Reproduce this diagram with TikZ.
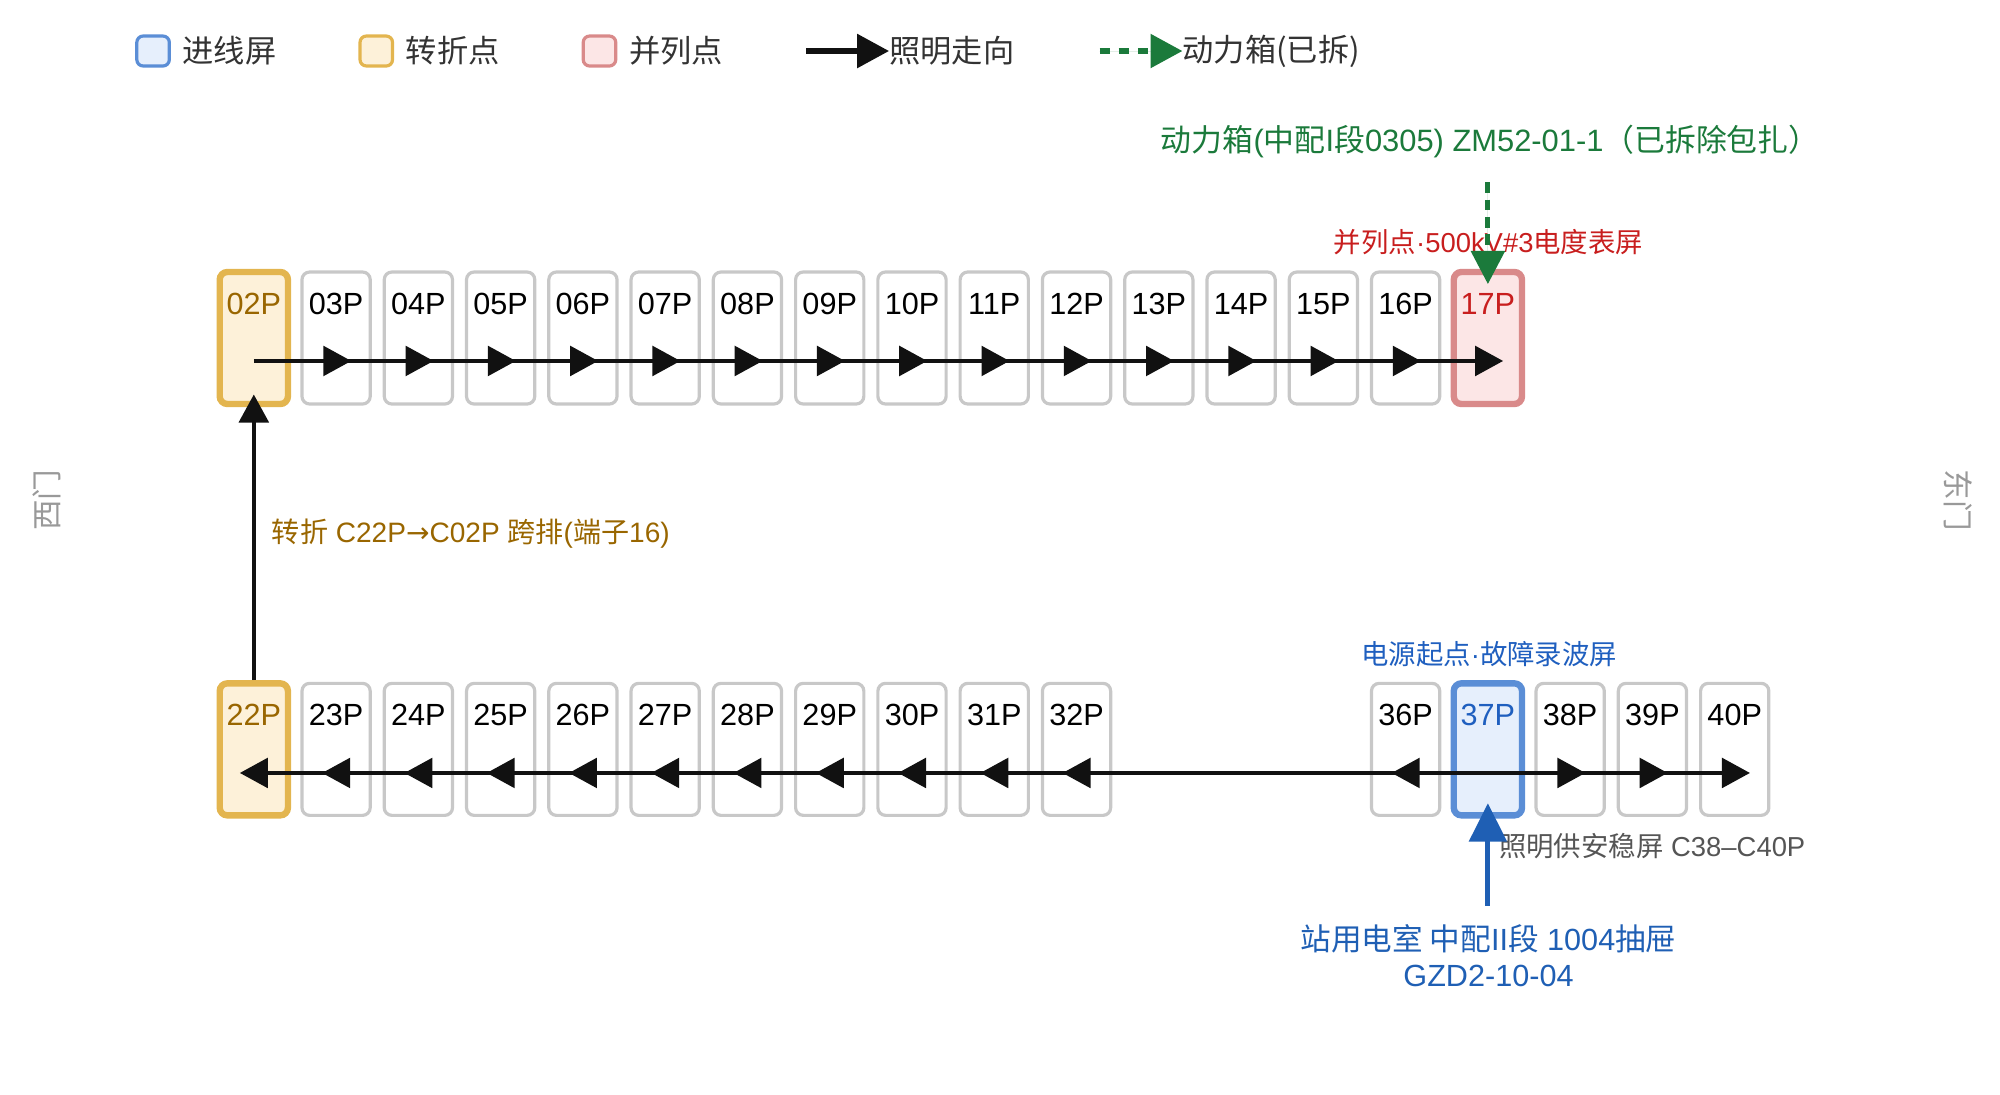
\documentclass[tikz,border=0pt]{standalone}
\usepackage{fontspec}
\setmainfont{Liberation Sans}
\newfontfamily\cjk{Noto Sans CJK SC}
\newfontfamily\arrfont{DejaVu Sans}
\usetikzlibrary{arrows.meta,positioning}

\definecolor{panelLine}{HTML}{C8C8C8}
\definecolor{inFill}{HTML}{E6EFFC}
\definecolor{inLine}{HTML}{5B8ED6}
\definecolor{inText}{HTML}{1F5FBF}
\definecolor{turnFill}{HTML}{FDF1D9}
\definecolor{turnLine}{HTML}{E3B54F}
\definecolor{turnText}{HTML}{996600}
\definecolor{parFill}{HTML}{FCE6E6}
\definecolor{parLine}{HTML}{D98A8A}
\definecolor{parText}{HTML}{C81E1E}
\definecolor{flowBlack}{HTML}{111111}
\definecolor{pwrGreen}{HTML}{1B7A3B}
\definecolor{feedBlue}{HTML}{1F5FB4}
\definecolor{noteGray}{HTML}{555555}
\definecolor{sideGray}{HTML}{999999}
\definecolor{keyText}{HTML}{333333}

\newcommand\panelfont{\fontsize{24}{28}\selectfont}
\newcommand\notefont{\fontsize{21.5}{26}\selectfont}
\newcommand\bignotefont{\fontsize{24.2}{28}\selectfont}

\begin{document}
\begin{tikzpicture}[x=1pt,y=-1pt,
        panel/.style={draw=panelLine, fill=white, line width=2.5pt, rounded corners=6pt,
          minimum width=53.5pt, minimum height=103.5pt, inner sep=0pt,
          text height=33.3pt, text depth=70.2pt, font=\panelfont},
        inpanel/.style={panel, draw=inLine, fill=inFill, line width=5pt, text=inText},
        turnpanel/.style={panel, draw=turnLine, fill=turnFill, line width=5pt, text=turnText},
        parpanel/.style={panel, draw=parLine, fill=parFill, line width=5pt, text=parText},
        key/.style={rounded corners=5pt, line width=2.5pt, minimum width=25.5pt, minimum height=23.5pt, inner sep=0pt},
        keytext/.style={inner sep=0pt, text=keyText, font=\fontsize{24.5}{28}\selectfont\cjk},
        flow/.style={-{Triangle[length=22pt,width=23pt]}, draw=flowBlack, fill=flowBlack, line width=3.5pt},
        power/.style={-{Triangle[length=26pt,width=26pt]}, draw=pwrGreen, fill=pwrGreen, line width=4pt, dash pattern=on 8.5pt off 5pt},
        feed/.style={-{Triangle[length=30pt,width=29pt]}, draw=feedBlue, fill=feedBlue, line width=4pt},
        note/.style={inner sep=0pt, font=\notefont}]

        % frame
        \useasboundingbox (0,0) rectangle (1568,858);

        % legend
        \node[key, draw=inLine, fill=inFill] (kIn) at (120,40) {};
        \node[keytext, right=9pt of kIn] (kInT) {进线屏};
        \node[key, draw=turnLine, fill=turnFill] (kTurn) at (295,40) {};
        \node[keytext, right=9pt of kTurn] (kTurnT) {转折点};
        \node[key, draw=parLine, fill=parFill] (kPar) at (470,40) {};
        \node[keytext, right=9pt of kPar] (kParT) {并列点};
        \coordinate (kFlow) at (632,40);
        \node[keytext, anchor=west] (kFlowT) at (697,40) {照明走向};
        \draw[flow, -{Triangle[length=25pt,width=26pt]}, line width=4pt] (kFlow) -- (kFlowT.west);
        \coordinate (kPwr) at (862,40);
        \node[keytext, anchor=west] (kPwrT) at (927,40) {动力箱(已拆)};
        \draw[power, dash pattern=on 8pt off 7pt, -{Triangle[length=25pt,width=26pt]}] (kPwr) -- (kPwrT.west);

        % top row
        \node[turnpanel] (p02) at (199,265) {02P};
        \node[panel] (p03) at (263.5,265) {03P};
        \node[panel] (p04) at (328,265) {04P};
        \node[panel] (p05) at (392.5,265) {05P};
        \node[panel] (p06) at (457,265) {06P};
        \node[panel] (p07) at (521.5,265) {07P};
        \node[panel] (p08) at (586,265) {08P};
        \node[panel] (p09) at (650.5,265) {09P};
        \node[panel] (p10) at (715,265) {10P};
        \node[panel] (p11) at (779.5,265) {11P};
        \node[panel] (p12) at (844,265) {12P};
        \node[panel] (p13) at (908.5,265) {13P};
        \node[panel] (p14) at (973,265) {14P};
        \node[panel] (p15) at (1037.5,265) {15P};
        \node[panel] (p16) at (1102,265) {16P};
        \node[parpanel] (p17) at (1166.5,265) {17P};

        % bottom row
        \node[turnpanel] (p22) at (199,587.5) {22P};
        \node[panel] (p23) at (263.5,587.5) {23P};
        \node[panel] (p24) at (328,587.5) {24P};
        \node[panel] (p25) at (392.5,587.5) {25P};
        \node[panel] (p26) at (457,587.5) {26P};
        \node[panel] (p27) at (521.5,587.5) {27P};
        \node[panel] (p28) at (586,587.5) {28P};
        \node[panel] (p29) at (650.5,587.5) {29P};
        \node[panel] (p30) at (715,587.5) {30P};
        \node[panel] (p31) at (779.5,587.5) {31P};
        \node[panel] (p32) at (844,587.5) {32P};
        \node[panel] (p36) at (1102,587.5) {36P};
        \node[inpanel] (p37) at (1166.5,587.5) {37P};
        \node[panel] (p38) at (1231,587.5) {38P};
        \node[panel] (p39) at (1295.5,587.5) {39P};
        \node[panel] (p40) at (1360,587.5) {40P};

        % lighting flow
        \foreach \a/\b in {p02/p03,p03/p04,p04/p05,p05/p06,p06/p07,p07/p08,p08/p09,p09/p10,
                           p10/p11,p11/p12,p12/p13,p13/p14,p14/p15,p15/p16,p16/p17}
          \draw[flow] ([yshift=-18pt]\a.center) -- ([shift={(12pt,-18pt)}]\b.center);
        \foreach \a/\b in {p37/p36,p36/p32,p32/p31,p31/p30,p30/p29,p29/p28,p28/p27,
                           p27/p26,p26/p25,p25/p24,p24/p23,p23/p22}
          \draw[flow] ([yshift=-18.5pt]\a.center) -- ([shift={(-11pt,-18.5pt)}]\b.center);
        \foreach \a/\b in {p37/p38,p38/p39,p39/p40}
          \draw[flow] ([yshift=-18.5pt]\a.center) -- ([shift={(12pt,-18.5pt)}]\b.center);
        \draw[flow] (p22.north) -- ([yshift=10pt]p02.south);

        % notes
        \node[note, anchor=west, text=turnText, font=\fontsize{22}{26}\selectfont] (turnT) at (213,418)
          {{\cjk 转折} C22P{\arrfont →}C02P {\cjk 跨排}({\cjk 端子}16)};
        \node[note, text=parText] (parT) at (1167,190) {{\cjk 并列点}·500kV\#3{\cjk 电度表屏}};
        \node[note, anchor=west, text=pwrGreen, font=\bignotefont] (pwrT) at (910,111)
          {{\cjk 动力箱}({\cjk 中配}I{\cjk 段}0305) ZM52-01-1{\cjk （已拆除包扎）}};
        \node[note, anchor=west, text=inText] (srcT) at (1067,513) {{\cjk 电源起点}·{\cjk 故障录波屏}};
        \node[note, anchor=west, text=noteGray] (upsT) at (1175,663) {{\cjk 照明供安稳屏} C38–C40P};
        \node[note, align=center, text=feedBlue, font=\fontsize{24}{28}\selectfont] (feedT) at (1167,749)
          {{\cjk 站用电室 中配}II{\cjk 段} 1004{\cjk 抽屉}\\GZD2-10-04};

        % feeds
        \coordinate (pwrTop) at (1166.5,143);
        \draw[power] (pwrTop) -- ([yshift=-12pt]p17.north);
        \coordinate (feedBot) at (1166.5,710);
        \draw[feed] (feedBot) -- ([yshift=12pt]p37.south);

        % doors
        \node[rotate=90, text=sideGray, font=\fontsize{24}{28}\selectfont\cjk] (west) at (37,392) {西门};
        \node[rotate=-90, text=sideGray, font=\fontsize{24}{28}\selectfont\cjk] (east) at (1535,392) {东门};

      \end{tikzpicture}
\end{document}
